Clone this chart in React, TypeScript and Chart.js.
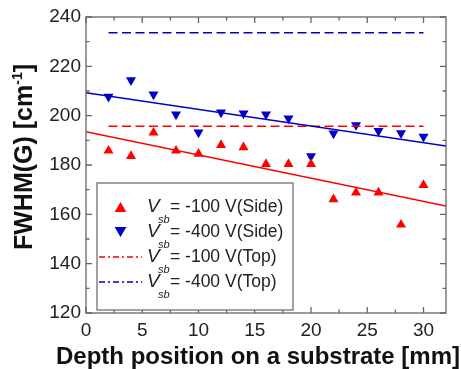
import React, { useEffect, useRef } from 'react';
import { Chart, registerables } from 'chart.js';

Chart.register(...registerables);

// ---- data ----
const positions = [2, 4, 6, 8, 10, 12, 14, 16, 18, 20, 22, 24, 26, 28, 30];
const side100 = [185.8, 183.6, 193.1, 185.8, 184.5, 188.1, 187.2, 180.4, 180.4, 180.4, 166.1, 168.8, 168.8, 155.8, 171.9];
const side400 = [207.7, 214.4, 208.6, 200.5, 193.2, 201.3, 200.9, 200.5, 198.9, 183.6, 192.8, 196.2, 193.8, 192.9, 191.5];
const top100X = [2, 30];
const top100Y = [195.7, 195.7];
const top400X = [2, 30];
const top400Y = [233.6, 233.6];
const fit100X = [0, 32];
const fit100Y = [193.5, 163.4];
const fit400X = [0, 32];
const fit400Y = [209.3, 187.7];

const xTicks = [0, 5, 10, 15, 20, 25, 30];
const xMinor = [2.5, 7.5, 12.5, 17.5, 22.5, 27.5];
const yTicks = [120, 140, 160, 180, 200, 220, 240];
const yMinor = [130, 150, 170, 190, 210, 230];

const legendTexts = ['= -100 V(Side)', '= -400 V(Side)', '= -100 V(Top)', '= -400 V(Top)'];
const xTitle = 'Depth position on a substrate [mm]';
const yTitleMain = 'FWHM(G) [cm';
const yTitleSup = '-1';
const yTitleEnd = ']';

const RED = '#ff0000';
const BLUE = '#0000c8';
const FONT = "'Liberation Sans', Arial, sans-serif";

const pts = (xs: number[], ys: number[]) => xs.map((x, i) => ({ x, y: ys[i] }));

function tri(ctx: CanvasRenderingContext2D, x: number, y: number, r: number, up: boolean, color: string) {
  const h = r * 1.5;
  const w = r * Math.sqrt(3);
  ctx.beginPath();
  if (up) {
    ctx.moveTo(x, y - h / 2);
    ctx.lineTo(x + w / 2, y + h / 2);
    ctx.lineTo(x - w / 2, y + h / 2);
  } else {
    ctx.moveTo(x, y + h / 2);
    ctx.lineTo(x + w / 2, y - h / 2);
    ctx.lineTo(x - w / 2, y - h / 2);
  }
  ctx.closePath();
  ctx.fillStyle = color;
  ctx.fill();
}

const decorPlugin = {
  id: 'decor',
  afterDatasetsDraw(chart: any) {
    const ctx: CanvasRenderingContext2D = chart.ctx;
    const { left, right, top, bottom } = chart.chartArea;
    const xs = chart.scales.x;
    const ys = chart.scales.y;
    ctx.save();
    // frame
    ctx.strokeStyle = '#666';
    ctx.lineWidth = 1.3;
    ctx.strokeRect(left, top, right - left, bottom - top);
    // ticks
    ctx.beginPath();
    const tk = (v: number, len: number) => {
      const px = xs.getPixelForValue(v);
      ctx.moveTo(px, bottom); ctx.lineTo(px, bottom - len);
      ctx.moveTo(px, top); ctx.lineTo(px, top + len);
    };
    const tky = (v: number, len: number) => {
      const py = ys.getPixelForValue(v);
      ctx.moveTo(left, py); ctx.lineTo(left + len, py);
      ctx.moveTo(right, py); ctx.lineTo(right - len, py);
    };
    xTicks.forEach((v) => tk(v, 6));
    xMinor.forEach((v) => tk(v, 3.5));
    yTicks.forEach((v) => tky(v, 6));
    yMinor.forEach((v) => tky(v, 3.5));
    ctx.stroke();

    // legend
    const bx = 97, by = 183, bw = 196, bh = 127;
    ctx.fillStyle = '#fff';
    ctx.fillRect(bx, by, bw, bh);
    ctx.strokeStyle = '#666';
    ctx.lineWidth = 1.2;
    ctx.strokeRect(bx, by, bw, bh);
    const rows = [207, 232, 257, 282];
    tri(ctx, 120.5, rows[0], 6.8, true, RED);
    tri(ctx, 120.5, rows[1], 6.8, false, BLUE);
    ctx.setLineDash([6, 3, 2, 3]);
    ctx.lineWidth = 1.5;
    ctx.strokeStyle = RED;
    ctx.beginPath(); ctx.moveTo(99, rows[2]); ctx.lineTo(142, rows[2]); ctx.stroke();
    ctx.strokeStyle = BLUE;
    ctx.beginPath(); ctx.moveTo(99, rows[3]); ctx.lineTo(142, rows[3]); ctx.stroke();
    ctx.setLineDash([]);
    ctx.fillStyle = '#222';
    ctx.textBaseline = 'middle';
    ctx.textAlign = 'left';
    rows.forEach((ry, i) => {
      ctx.font = `italic 19px ${FONT}`;
      ctx.fillText('V', 147, ry);
      ctx.font = `italic 11px ${FONT}`;
      ctx.fillText('sb', 158, ry + 13);
      ctx.font = `17.5px ${FONT}`;
      ctx.fillText(legendTexts[i], 170, ry);
    });

    // x title
    ctx.font = `bold 24px ${FONT}`;
    ctx.textAlign = 'center';
    ctx.textBaseline = 'alphabetic';
    ctx.fillStyle = '#111';
    ctx.fillText(xTitle, 258, 364);

    // y title
    ctx.translate(32, 157);
    ctx.rotate(-Math.PI / 2);
    ctx.font = `bold 25px ${FONT}`;
    const w1 = ctx.measureText(yTitleMain).width;
    ctx.font = `bold 14px ${FONT}`;
    const w2 = ctx.measureText(yTitleSup).width;
    ctx.font = `bold 25px ${FONT}`;
    const w3 = ctx.measureText(yTitleEnd).width;
    let sx = -(w1 + w2 + w3) / 2;
    ctx.textAlign = 'left';
    ctx.fillText(yTitleMain, sx, 0);
    sx += w1;
    ctx.font = `bold 14px ${FONT}`;
    ctx.fillText(yTitleSup, sx, -10);
    sx += w2;
    ctx.font = `bold 25px ${FONT}`;
    ctx.fillText(yTitleEnd, sx, 0);
    ctx.restore();
  },
};

export default function App() {
  const ref = useRef<HTMLCanvasElement | null>(null);
  useEffect(() => {
    document.body.style.margin = '0';
    const canvas = ref.current!;
    const chart = new Chart(canvas, {
      type: 'scatter',
      data: {
        datasets: [
          { type: 'line', data: pts(fit100X, fit100Y), borderColor: RED, borderWidth: 1.5, pointRadius: 0, fill: false },
          { type: 'line', data: pts(fit400X, fit400Y), borderColor: BLUE, borderWidth: 1.5, pointRadius: 0, fill: false },
          { type: 'line', data: pts(top100X, top100Y), borderColor: RED, borderWidth: 1.5, borderDash: [9, 4.5], pointRadius: 0, fill: false },
          { type: 'line', data: pts(top400X, top400Y), borderColor: BLUE, borderWidth: 1.5, borderDash: [9, 4.5], pointRadius: 0, fill: false },
          { data: pts(positions, side100), pointStyle: 'triangle', pointRadius: 5.8, backgroundColor: RED, borderColor: RED, borderWidth: 0 },
          { data: pts(positions, side400), pointStyle: 'triangle', rotation: 180, pointRadius: 5.8, backgroundColor: BLUE, borderColor: BLUE, borderWidth: 0 },
        ] as any,
      },
      options: {
        responsive: false,
        animation: false,
        layout: { padding: { left: 0, right: 15, top: 17, bottom: 0 } },
        plugins: { legend: { display: false }, tooltip: { enabled: false } },
        scales: {
          x: {
            type: 'linear',
            min: 0,
            max: 32,
            grid: { display: false, drawTicks: false },
            border: { display: false },
            afterBuildTicks: (s: any) => { s.ticks = xTicks.map((v) => ({ value: v })); },
            afterFit: (s: any) => { s.height = 56; },
            ticks: { padding: 6, color: '#222', font: { family: FONT, size: 19 }, maxRotation: 0 },
          },
          y: {
            type: 'linear',
            min: 120,
            max: 240,
            grid: { display: false, drawTicks: false },
            border: { display: false },
            afterBuildTicks: (s: any) => { s.ticks = yTicks.map((v) => ({ value: v })); },
            afterFit: (s: any) => { s.width = 86; },
            ticks: { padding: 5, color: '#222', font: { family: FONT, size: 19 } },
          },
        },
      },
      plugins: [decorPlugin],
    });
    return () => chart.destroy();
  }, []);
  return <canvas ref={ref} width={461} height={369} style={{ display: 'block' }} />;
}
